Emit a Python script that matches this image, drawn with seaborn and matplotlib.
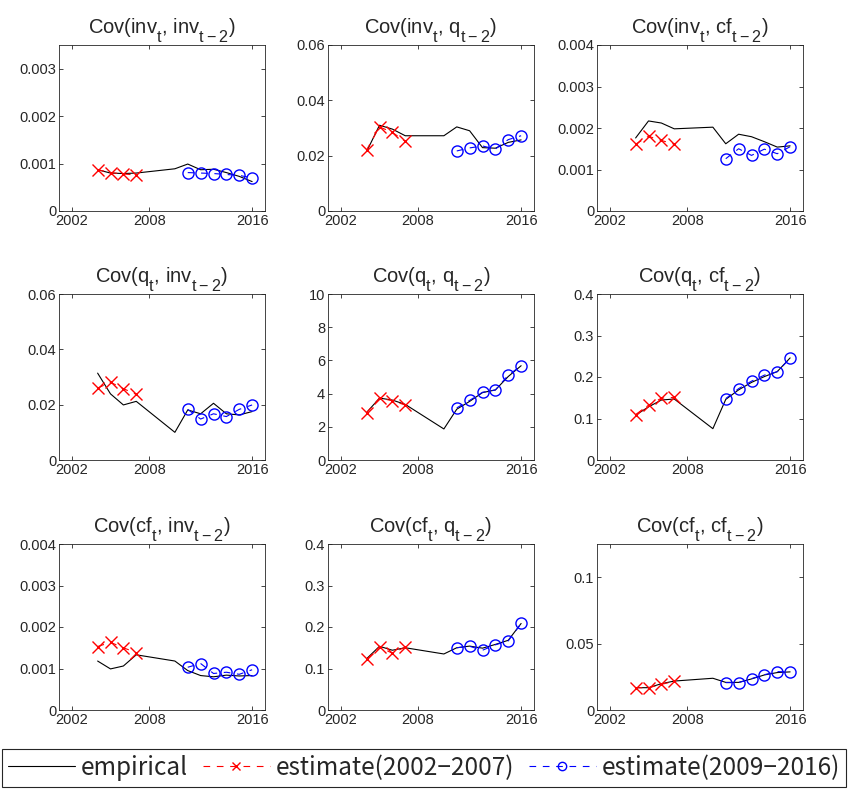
import matplotlib
matplotlib.use("Agg")
import matplotlib.pyplot as plt
import matplotlib._mathtext as mtext
import seaborn as sns
from matplotlib.ticker import FuncFormatter

# bigger, lower subscripts like the MATLAB titles
mtext.SHRINK_FACTOR = 0.8
mtext.FontConstantsBase.sub1 = 0.9

# years
years_emp = [2004, 2005, 2006, 2007, 2010, 2011, 2012, 2013, 2014, 2015, 2016]
years_early = [2004, 2005, 2006, 2007]
years_late = [2011, 2012, 2013, 2014, 2015, 2016]

# Cov(inv_t, inv_t-2)
emp_inv_inv = [0.00087, 0.00080, 0.00079, 0.00080, 0.00089, 0.00099, 0.00087, 0.00088, 0.00081, 0.00073, 0.00062]
early_inv_inv = [0.00087, 0.00081, 0.00078, 0.00076]
late_inv_inv = [0.00081, 0.00080, 0.00079, 0.00077, 0.00075, 0.00070]
# Cov(inv_t, q_t-2)
emp_inv_q = [0.0215, 0.0310, 0.0296, 0.0272, 0.0272, 0.0304, 0.0290, 0.0229, 0.0227, 0.0248, 0.0257]
early_inv_q = [0.0221, 0.0304, 0.0284, 0.0252]
late_inv_q = [0.0217, 0.0228, 0.0235, 0.0224, 0.0258, 0.0272]
# Cov(inv_t, cf_t-2)
emp_inv_cf = [0.00176, 0.00217, 0.00212, 0.00198, 0.00202, 0.00162, 0.00185, 0.00179, 0.00167, 0.00154, 0.00157]
early_inv_cf = [0.00161, 0.00180, 0.00170, 0.00161]
late_inv_cf = [0.00126, 0.00150, 0.00134, 0.00149, 0.00138, 0.00155]
# Cov(q_t, inv_t-2)
emp_q_inv = [0.0314, 0.0239, 0.0199, 0.0212, 0.0100, 0.0181, 0.0167, 0.0205, 0.0167, 0.0163, 0.0175]
early_q_inv = [0.0260, 0.0281, 0.0258, 0.0237]
late_q_inv = [0.0183, 0.0148, 0.0167, 0.0157, 0.0183, 0.0199]
# Cov(q_t, q_t-2)
emp_q_q = [2.86, 3.73, 3.61, 3.35, 1.87, 3.06, 3.53, 4.06, 4.22, 5.03, 5.68]
early_q_q = [2.86, 3.73, 3.57, 3.31]
late_q_q = [3.14, 3.59, 4.08, 4.22, 5.11, 5.68]
# Cov(q_t, cf_t-2)
emp_q_cf = [0.108, 0.128, 0.1445, 0.147, 0.0755, 0.146, 0.169, 0.187, 0.201, 0.213, 0.246]
early_q_cf = [0.1096, 0.132, 0.149, 0.151]
late_q_cf = [0.148, 0.172, 0.190, 0.2045, 0.2127, 0.245]
# Cov(cf_t, inv_t-2)
emp_cf_inv = [0.00118, 0.00099, 0.00106, 0.00133, 0.00118, 0.00095, 0.00083, 0.00080, 0.00084, 0.00082, 0.00083]
early_cf_inv = [0.00153, 0.00163, 0.00150, 0.00138]
late_cf_inv = [0.00103, 0.00112, 0.00088, 0.00091, 0.00086, 0.00097]
# Cov(cf_t, q_t-2)
emp_cf_q = [0.1236, 0.1535, 0.144, 0.150, 0.135, 0.150, 0.154, 0.149, 0.158, 0.168, 0.2085]
early_cf_q = [0.122, 0.152, 0.1366, 0.152]
late_cf_q = [0.150, 0.1535, 0.144, 0.157, 0.1665, 0.2085]
# Cov(cf_t, cf_t-2)
emp_cf_cf = [0.0168, 0.0168, 0.0198, 0.0218, 0.0239, 0.0208, 0.0208, 0.0234, 0.0264, 0.0282, 0.0287]
early_cf_cf = [0.0168, 0.0167, 0.0193, 0.0216]
late_cf_cf = [0.0206, 0.0206, 0.0236, 0.0266, 0.0289, 0.0287]

titles = [r"Cov(inv$_{t}$, inv$_{t-2}$)", r"Cov(inv$_{t}$, q$_{t-2}$)", r"Cov(inv$_{t}$, cf$_{t-2}$)",
          r"Cov(q$_{t}$, inv$_{t-2}$)", r"Cov(q$_{t}$, q$_{t-2}$)", r"Cov(q$_{t}$, cf$_{t-2}$)",
          r"Cov(cf$_{t}$, inv$_{t-2}$)", r"Cov(cf$_{t}$, q$_{t-2}$)", r"Cov(cf$_{t}$, cf$_{t-2}$)"]
y_max = [0.0035, 0.06, 0.004, 0.06, 10, 0.4, 0.004, 0.4, 0.125]
y_step = [0.001, 0.02, 0.001, 0.02, 2, 0.1, 0.001, 0.1, 0.05]
x_ticks = [2002, 2008, 2016]

panels = [
    (emp_inv_inv, early_inv_inv, late_inv_inv),
    (emp_inv_q, early_inv_q, late_inv_q),
    (emp_inv_cf, early_inv_cf, late_inv_cf),
    (emp_q_inv, early_q_inv, late_q_inv),
    (emp_q_q, early_q_q, late_q_q),
    (emp_q_cf, early_q_cf, late_q_cf),
    (emp_cf_inv, early_cf_inv, late_cf_inv),
    (emp_cf_q, early_cf_q, late_cf_q),
    (emp_cf_cf, early_cf_cf, late_cf_cf),
]

sns.set_style("ticks")
plt.rcParams["font.family"] = ["Liberation Sans", "DejaVu Sans"]
plt.rcParams["mathtext.fontset"] = "custom"
plt.rcParams["mathtext.rm"] = "Liberation Sans"
plt.rcParams["mathtext.default"] = "regular"
plt.rcParams["xtick.direction"] = "in"
plt.rcParams["ytick.direction"] = "in"
plt.rcParams["xtick.top"] = True
plt.rcParams["ytick.right"] = True

W, H = 848, 790
fig = plt.figure(figsize=(W / 100, H / 100), dpi=100)

col_left = [59, 328, 597]
row_top = [45, 294, 544]
ax_w, ax_h = 206, 166

def fmt(v, pos):
    return "0" if v == 0 else "%g" % v

for i, (emp, early, late) in enumerate(panels):
    r, c = divmod(i, 3)
    ax = fig.add_axes([col_left[c] / W, 1 - (row_top[r] + ax_h) / H, ax_w / W, ax_h / H])
    sns.lineplot(x=years_emp, y=emp, ax=ax, color="black", linewidth=0.8,
                 errorbar=None, label="empirical")
    sns.lineplot(x=years_early, y=early, ax=ax, color="red", linewidth=0.8,
                 linestyle=(0, (6, 6)), marker="x", markersize=8,
                 markeredgecolor="red", markeredgewidth=1.0,
                 errorbar=None, label="estimate(2002\u22122007)")
    sns.lineplot(x=years_late, y=late, ax=ax, color="blue", linewidth=0.8,
                 linestyle=(0, (6, 6)), marker="o", markersize=8,
                 markerfacecolor="none", markeredgecolor="blue", markeredgewidth=1.0,
                 errorbar=None, label="estimate(2009\u22122016)")
    if ax.get_legend() is not None:
        ax.get_legend().remove()
    ax.set_xlim(2001, 2017)
    ax.set_xticks(x_ticks)
    n = int(y_max[i] / y_step[i] + 1e-9)
    ax.set_yticks([round(k * y_step[i], 6) for k in range(n + 1)])
    ax.set_ylim(0, y_max[i])
    ax.yaxis.set_major_formatter(FuncFormatter(fmt))
    ax.tick_params(labelsize=10.5, length=3, width=0.6, colors="#262626", pad=2)
    for s in ax.spines.values():
        s.set_linewidth(0.6)
        s.set_color("#262626")
    ax.set_title(titles[i], fontsize=14.5, pad=6)
    ax.set_xlabel("")
    ax.set_ylabel("")
    if i == 0:
        handles, labels = ax.get_legend_handles_labels()

leg = fig.legend(handles, labels, loc="lower center", ncol=3,
                 bbox_to_anchor=(0.5, 3 / H), borderaxespad=0,
                 prop={"family": ["Noto Sans CJK JP", "DejaVu Sans"], "size": 17.5},
                 frameon=True, fancybox=False, edgecolor="#262626", framealpha=1,
                 handlelength=2.75, handletextpad=0.25, borderpad=0.25, columnspacing=0.6)
leg.get_frame().set_linewidth(0.8)
for ln in leg.get_lines():
    ln.set_markersize(6)

fig.savefig("out.png", dpi=100)
